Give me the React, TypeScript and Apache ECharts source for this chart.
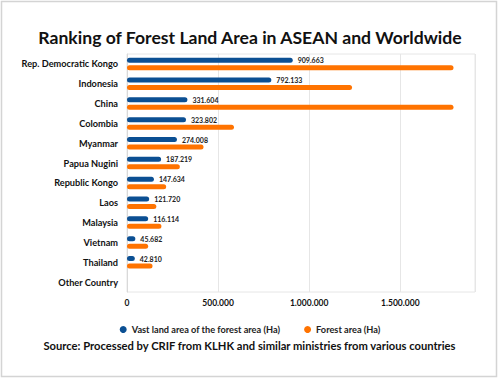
import React, { useEffect, useRef } from "react";
import * as echarts from "echarts";

const categories = [
  "Rep. Democratic Kongo",
  "Indonesia",
  "China",
  "Colombia",
  "Myanmar",
  "Papua Nugini",
  "Republic Kongo",
  "Laos",
  "Malaysia",
  "Vietnam",
  "Thailand",
  "Other Country",
];
const vastLand = [909663, 792133, 331604, 323802, 274008, 187219, 147634, 121720, 116114, 45682, 42810, null];
const forestArea = [1792000, 1235000, 1792000, 587000, 420000, 290000, 215000, 161000, 189000, 116000, 140000, null];
const seriesNames = ["Vast land area of the forest area (Ha)", "Forest area (Ha)"];
const titleText = "Ranking of Forest Land Area in ASEAN and Worldwide";
const sourceText = "Source: Processed by CRIF from KLHK and similar ministries from various countries";

const FONT = "Lato, 'Open Sans', sans-serif";

function fmt(v: number): string {
  return String(Math.round(v)).replace(/\B(?=(\d{3})+(?!\d))/g, ".");
}

export default function App() {
  const ref = useRef<HTMLDivElement>(null);
  useEffect(() => {
    document.body.style.margin = "0";
    const chart = echarts.init(ref.current!, null, { renderer: "svg" });
    chart.setOption({
      animation: false,
      backgroundColor: "#ffffff",
      textStyle: { fontFamily: FONT },
      title: {
        text: titleText,
        left: "center",
        top: 23,
        textStyle: { fontFamily: FONT, fontSize: 17.6, fontWeight: "bold", color: "#111" },
      },
      graphic: [
        {
          type: "rect",
          shape: { x: 1.5, y: 1.5, width: 495, height: 375 },
          style: { fill: "none", stroke: "#d4d4d4", lineWidth: 1.5 },
          silent: true,
        },
        {
          type: "text",
          left: "center",
          top: 340,
          style: { text: sourceText, fontFamily: FONT, fontSize: 11.2, fontWeight: "bold", fill: "#111" },
        },
      ],
      legend: {
        data: seriesNames,
        top: 320,
        left: "center",
        icon: "circle",
        itemWidth: 7,
        itemHeight: 7,
        itemGap: 24,
        textStyle: { fontFamily: FONT, fontSize: 9.2, fontWeight: "bold", color: "#222" },
      },
      grid: {
        left: 127,
        right: 25,
        top: 54,
        bottom: 88,
        show: true,
        borderColor: "#e6e6e6",
        borderWidth: 1,
      },
      xAxis: {
        type: "value",
        min: 0,
        max: 1910000,
        interval: 500000,
        axisLine: { show: false },
        axisTick: { show: false },
        splitLine: { show: true, lineStyle: { color: "#e6e6e6", width: 1 } },
        axisLabel: {
          showMaxLabel: false,
          formatter: (v: number) => fmt(v),
          fontFamily: FONT,
          fontSize: 8.5,
          fontWeight: "bold",
          color: "#111",
          margin: 6,
        },
      },
      yAxis: {
        type: "category",
        data: categories,
        inverse: true,
        axisLine: { show: true, lineStyle: { color: "#d9d9d9" } },
        axisTick: { show: false },
        axisLabel: { fontFamily: FONT, fontSize: 9.2, fontWeight: "bold", color: "#111", margin: 9 },
      },
      series: [
        {
          name: seriesNames[0],
          type: "bar",
          data: vastLand,
          barWidth: 5,
          barGap: "50%",
          itemStyle: { color: "#0b4f93", borderRadius: 2.5 },
          label: {
            show: true,
            position: "right",
            distance: 5,
            formatter: (p: any) => fmt(p.value),
            fontFamily: FONT,
            fontSize: 7,
            fontWeight: "bold",
            color: "#222",
          },
        },
        {
          name: seriesNames[1],
          type: "bar",
          data: forestArea,
          barWidth: 5,
          barGap: "50%",
          itemStyle: { color: "#ff7300", borderRadius: 2.5 },
        },
      ],
    });
    return () => chart.dispose();
  }, []);
  return <div ref={ref} style={{ width: 500, height: 380 }} />;
}
